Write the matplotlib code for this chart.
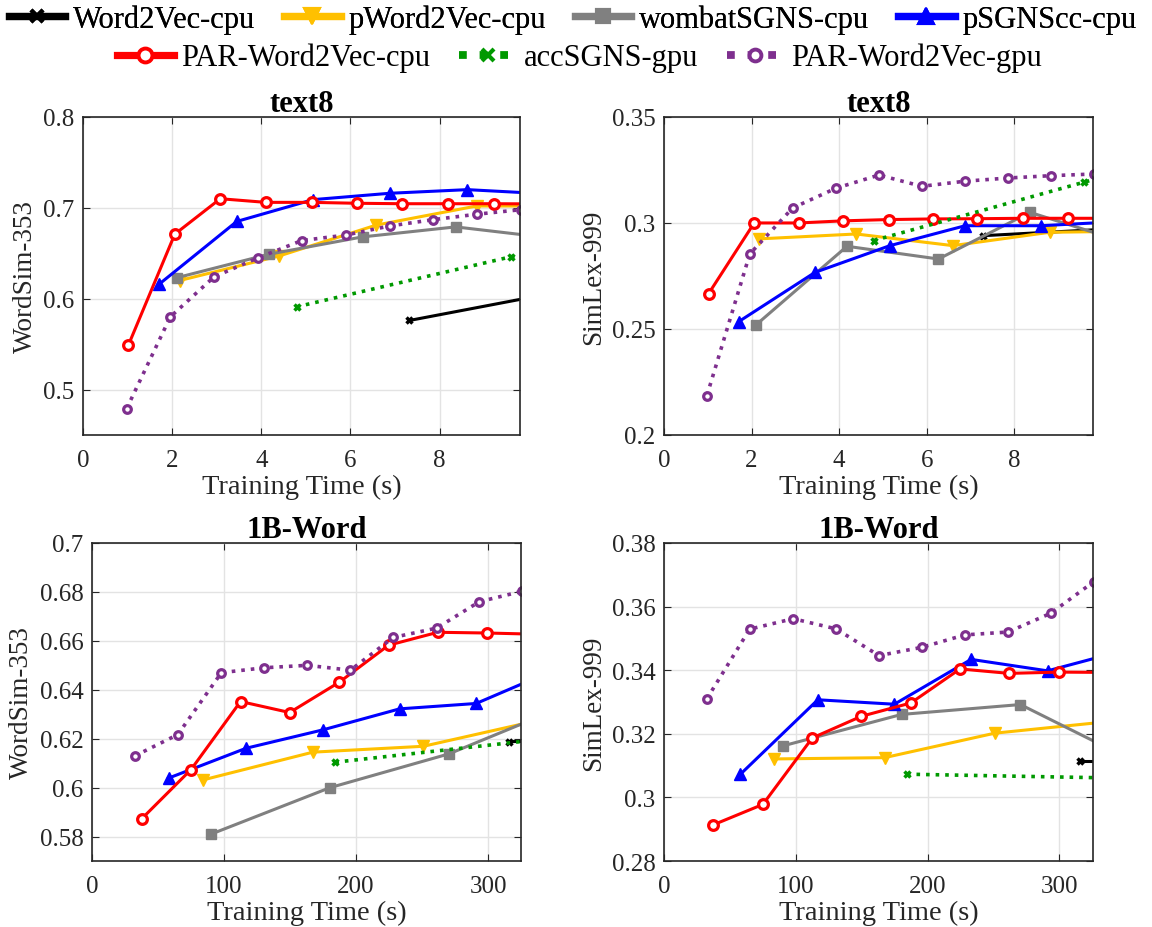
import matplotlib
matplotlib.use('Agg')
import matplotlib.pyplot as plt
from matplotlib.lines import Line2D

plt.rcParams['font.family'] = ['Liberation Serif', 'DejaVu Serif']

# ---- データ (text8) ----
t8_w2v_x = [7.32, 14.6]
t8_ws_w2v = [0.576, 0.644]
t8_sl_w2v_x = [7.29, 14.6]
t8_sl_w2v = [0.294, 0.302]

t8_pw2v_x = [2.17, 4.40, 6.58, 8.83, 11.05]
t8_ws_pw2v = [0.620, 0.647, 0.681, 0.702, 0.702]
t8_sl_pw2v_x = [2.18, 4.39, 6.60, 8.81, 11.0]
t8_sl_pw2v = [0.2925, 0.2948, 0.2893, 0.2956, 0.2962]

t8_wombat_x = [2.10, 4.18, 6.27, 8.36, 10.45]
t8_ws_wombat = [0.623, 0.649, 0.668, 0.679, 0.667]
t8_sl_wombat = [0.2519, 0.2890, 0.2830, 0.3050, 0.2914]

t8_psgns_x = [1.71, 3.45, 5.16, 6.88, 8.62, 10.35]
t8_ws_psgns = [0.616, 0.685, 0.709, 0.716, 0.720, 0.7155]
t8_sl_psgns = [0.2535, 0.2767, 0.2893, 0.2987, 0.2987, 0.3006]

t8_par_x = [1.02, 2.06, 3.08, 4.10, 5.13, 6.14, 7.16, 8.19, 9.22, 10.24]
t8_ws_par = [0.549, 0.671, 0.710, 0.706, 0.706, 0.705, 0.7045, 0.7045, 0.7045, 0.7043]
t8_sl_par = [0.2667, 0.300, 0.300, 0.301, 0.3016, 0.3019, 0.302, 0.3022, 0.3022, 0.3022]

t8_acc_x = [4.79, 9.59, 14.4]
t8_ws_acc = [0.591, 0.646, 0.700]
t8_sl_acc = [0.2917, 0.3192, 0.346]

t8_pargpu_x = [0.98, 1.96, 2.94, 3.93, 4.91, 5.89, 6.88, 7.86, 8.84, 9.83]
t8_ws_pargpu = [0.479, 0.580, 0.624, 0.645, 0.664, 0.670, 0.680, 0.687, 0.693, 0.698]
t8_sl_pargpu = [0.2186, 0.2854, 0.3071, 0.3164, 0.3226, 0.3173, 0.3197, 0.3212, 0.3223, 0.3231]

# ---- データ (1B-Word) ----
b1_w2v_x = [316, 400]
b1_ws_w2v = [0.6188, 0.6195]
b1_sl_w2v = [0.3115, 0.3115]

b1_pw2v_x = [83.7, 167.3, 251.0, 334]
b1_ws_pw2v = [0.6031, 0.6145, 0.6169, 0.6270]
b1_sl_pw2v = [0.3121, 0.3125, 0.3202, 0.3237]

b1_wombat_x = [90.2, 180.3, 270.4, 360]
b1_ws_wombat = [0.581, 0.600, 0.6138, 0.6337]
b1_sl_wombat = [0.3162, 0.3261, 0.3292, 0.3107]

b1_psgns_x = [58.0, 116.7, 174.8, 233.0, 291.0, 349]
b1_ws_psgns = [0.6039, 0.6161, 0.6236, 0.6322, 0.6344, 0.6478]
b1_sl_psgns = [0.3073, 0.3307, 0.3293, 0.3434, 0.3398, 0.3462]

b1_par_x = [37.5, 75.0, 112.5, 149.7, 187.3, 224.6, 261.9, 299.5, 337]
b1_ws_par = [0.5872, 0.6074, 0.6352, 0.6307, 0.6431, 0.6582, 0.6635, 0.6632, 0.6627]
b1_sl_par = [0.2914, 0.2978, 0.3187, 0.3255, 0.3297, 0.3404, 0.3390, 0.3394, 0.3393]

b1_acc_x = [184.3, 368]
b1_ws_acc = [0.6104, 0.6214]
b1_sl_acc = [0.3073, 0.3059]

b1_pargpu_x = [32.5, 65.0, 98.0, 130.5, 163.1, 195.7, 228.2, 261.0, 293.4, 326]
b1_ws_pargpu = [0.613, 0.6217, 0.647, 0.6490, 0.650, 0.6480, 0.6614, 0.6652, 0.6760, 0.6803]
b1_sl_pargpu = [0.3310, 0.3529, 0.3562, 0.3530, 0.3446, 0.3472, 0.3511, 0.3520, 0.3579, 0.3678]

labels = ['Word2Vec-cpu', 'pWord2Vec-cpu', 'wombatSGNS-cpu', 'pSGNScc-cpu',
          'PAR-Word2Vec-cpu', 'accSGNS-gpu', 'PAR-Word2Vec-gpu']

# スタイル
styles = [
    dict(color='black', ls='-', lw=2.2, marker='x', ms=5, mew=2.5),
    dict(color='#FFC000', ls='-', lw=2.2, marker='v', ms=9, mew=1),
    dict(color='#808080', ls='-', lw=2.2, marker='s', ms=6.5, mew=1),
    dict(color='#0000FF', ls='-', lw=2.2, marker='^', ms=9, mew=1),
    dict(color='#FF0000', ls='-', lw=2.2, marker='o', ms=7, mew=2.3, mfc='white'),
    dict(color='#009900', ls=':', lw=2.6, marker='x', ms=5, mew=2.5),
    dict(color='#7E2F8E', ls=':', lw=2.6, marker='o', ms=5.5, mew=2.3, mfc='white'),
]

panels = [
    dict(rect=[0.0720, 0.5302, 0.3793, 0.3427], title='text8', ylabel='WordSim-353',
         xlim=(0, 9.8), xticks=[0, 2, 4, 6, 8], ylim=(0.45, 0.8),
         yticks=[0.5, 0.6, 0.7, 0.8], ylabs=['0.5', '0.6', '0.7', '0.8'],
         series=[(t8_w2v_x, t8_ws_w2v), (t8_pw2v_x, t8_ws_pw2v), (t8_wombat_x, t8_ws_wombat),
                 (t8_psgns_x, t8_ws_psgns), (t8_par_x, t8_ws_par), (t8_acc_x, t8_ws_acc),
                 (t8_pargpu_x, t8_ws_pargpu)]),
    dict(rect=[0.5764, 0.5302, 0.3724, 0.3427], title='text8', ylabel='SimLex-999',
         xlim=(0, 9.8), xticks=[0, 2, 4, 6, 8], ylim=(0.2, 0.35),
         yticks=[0.2, 0.25, 0.3, 0.35], ylabs=['0.2', '0.25', '0.3', '0.35'],
         series=[(t8_sl_w2v_x, t8_sl_w2v), (t8_sl_pw2v_x, t8_sl_pw2v), (t8_wombat_x, t8_sl_wombat),
                 (t8_psgns_x, t8_sl_psgns), (t8_par_x, t8_sl_par), (t8_acc_x, t8_sl_acc),
                 (t8_pargpu_x, t8_sl_pargpu)]),
    dict(rect=[0.0799, 0.0711, 0.3724, 0.3427], title='1B-Word', ylabel='WordSim-353',
         xlim=(0, 325), xticks=[0, 100, 200, 300], ylim=(0.57, 0.7),
         yticks=[0.58, 0.6, 0.62, 0.64, 0.66, 0.68, 0.7],
         ylabs=['0.58', '0.6', '0.62', '0.64', '0.66', '0.68', '0.7'],
         series=[(b1_w2v_x, b1_ws_w2v), (b1_pw2v_x, b1_ws_pw2v), (b1_wombat_x, b1_ws_wombat),
                 (b1_psgns_x, b1_ws_psgns), (b1_par_x, b1_ws_par), (b1_acc_x, b1_ws_acc),
                 (b1_pargpu_x, b1_ws_pargpu)]),
    dict(rect=[0.5764, 0.0711, 0.3724, 0.3427], title='1B-Word', ylabel='SimLex-999',
         xlim=(0, 325.5), xticks=[0, 100, 200, 300], ylim=(0.28, 0.38),
         yticks=[0.28, 0.3, 0.32, 0.34, 0.36, 0.38],
         ylabs=['0.28', '0.3', '0.32', '0.34', '0.36', '0.38'],
         series=[(b1_w2v_x, b1_sl_w2v), (b1_pw2v_x, b1_sl_pw2v), (b1_wombat_x, b1_sl_wombat),
                 (b1_psgns_x, b1_sl_psgns), (b1_par_x, b1_sl_par), (b1_acc_x, b1_sl_acc),
                 (b1_pargpu_x, b1_sl_pargpu)]),
]

fig = plt.figure(figsize=(11.52, 9.28), dpi=100)
dark = '#262626'

for p in panels:
    ax = fig.add_axes(p['rect'])
    for (x, y), st in zip(p['series'], styles):
        ax.plot(x, y, color=st['color'], linestyle=st['ls'], linewidth=st['lw'],
                marker=st['marker'], markersize=st['ms'], markeredgewidth=st['mew'],
                markerfacecolor=st.get('mfc', st['color']), markeredgecolor=st['color'])
    ax.set_xlim(*p['xlim'])
    ax.set_ylim(*p['ylim'])
    ax.set_xticks(p['xticks'])
    ax.set_yticks(p['yticks'])
    ax.set_yticklabels(p['ylabs'])
    ax.grid(True, color='#E3E3E3', linewidth=1)
    ax.set_axisbelow(True)
    ax.tick_params(direction='in', top=True, right=True, labelsize=18, length=5,
                   color=dark, labelcolor=dark)
    ax.tick_params(axis='x', pad=10)
    ax.tick_params(axis='y', pad=6)
    for s in ax.spines.values():
        s.set_color(dark)
        s.set_linewidth(1.2)
    ax.set_title(p['title'], fontsize=22, fontweight='bold', pad=4)
    ax.set_xlabel('Training Time (s)', fontsize=20.5, labelpad=2, color=dark)
    ax.set_ylabel(p['ylabel'], fontsize=19.5, labelpad=4, color=dark)

# 凡例
handles = []
for st in styles:
    handles.append(Line2D([], [], color=st['color'], linestyle=st['ls'], linewidth=st['lw'] + 3,
                          marker=st['marker'], markersize=st['ms'] + 3, markeredgewidth=st['mew'] + 0.5,
                          markerfacecolor=st.get('mfc', st['color']), markeredgecolor=st['color']))

leg_kw = dict(loc='center', frameon=False, fontsize=22, handlelength=1.85, handletextpad=0.25,
              columnspacing=0.95, borderpad=0)
leg1 = fig.legend(handles[:4], labels[:4], bbox_to_anchor=(0.497, 0.978), ncol=4, **leg_kw)
leg2 = fig.legend(handles[4:], labels[4:], bbox_to_anchor=(0.503, 0.937), ncol=3, **leg_kw)
fig.add_artist(leg1)

fig.savefig('out.png', dpi=100)
